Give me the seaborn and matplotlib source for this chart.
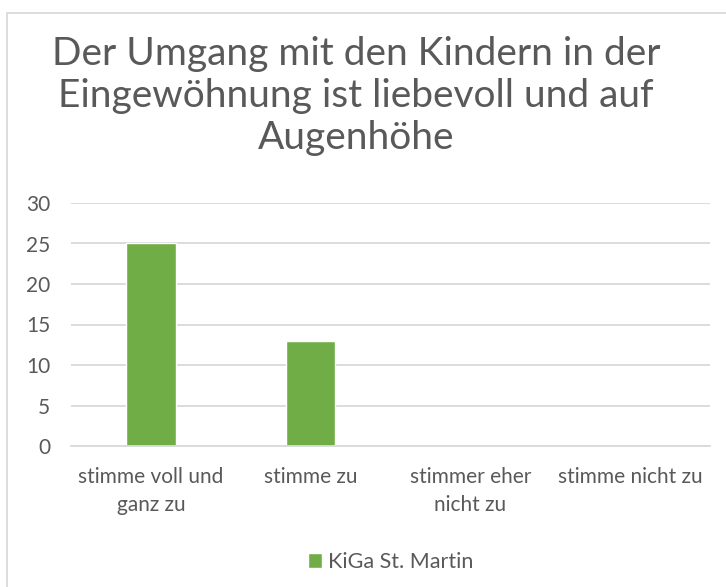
import matplotlib
matplotlib.use("Agg")
import matplotlib.pyplot as plt
import seaborn as sns
import pandas as pd
from matplotlib.patches import Rectangle

categories = ["stimme voll und\nganz zu", "stimme zu", "stimmer eher\nnicht zu", "stimme nicht zu"]
values = [25, 13, 0, 0]
series_name = "KiGa St. Martin"
yticks = [0, 5, 10, 15, 20, 25, 30]
title = "Der Umgang mit den Kindern in der\nEingewöhnung ist liebevoll und auf\nAugenhöhe"

sns.set_theme(style="white")
plt.rcParams['font.family'] = ['Lato', 'DejaVu Sans']

W, H = 726, 587
fig = plt.figure(figsize=(W / 100, H / 100), dpi=100)
ax = fig.add_axes([71 / W, 1 - 446 / H, (710 - 71) / W, (446 - 203) / H])

df = pd.DataFrame({"cat": categories, "val": values, "series": series_name})
sns.barplot(data=df, x="cat", y="val", hue="series", palette=["#70AD47"],
            width=0.31, ax=ax, saturation=1)

ax.set_ylim(0, 30)
ax.set_yticks(yticks)
ax.set_yticklabels([str(t) for t in yticks])
ax.yaxis.grid(True, color="#D9D9D9", linewidth=1.3)
ax.set_axisbelow(True)
for s in ["top", "right", "left"]:
    ax.spines[s].set_visible(False)
ax.spines["bottom"].set_color("#D9D9D9")
ax.spines["bottom"].set_linewidth(1.3)
ax.tick_params(axis="both", length=0, colors="#595959", labelsize=15)
ax.tick_params(axis="y", pad=15)
ax.tick_params(axis="x", pad=15)
ax.set_xlabel("")
ax.set_ylabel("")
for lbl in ax.get_xticklabels():
    lbl.set_linespacing(1.5)

leg = ax.legend(loc="center", bbox_to_anchor=(0.5, (446 - 562) / (446 - 203)),
                frameon=False, fontsize=15.5, handlelength=0.65, handleheight=0.65,
                handletextpad=0.25, labelcolor="#595959")

fig.text(356 / W, 1 - 96 / H, title, ha="center", va="center",
         fontsize=28, color="#595959", linespacing=1.22)

fig.patches.append(Rectangle((7 / W, -0.1), 1.2, 1 - 13 / H + 0.1,
                             transform=fig.transFigure, fill=False,
                             edgecolor="#D9D9D9", linewidth=1.3))

fig.savefig("out.png", dpi=100, facecolor="white")
